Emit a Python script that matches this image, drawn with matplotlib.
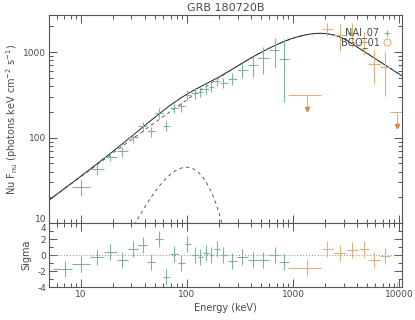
import numpy as np
import matplotlib
matplotlib.use("Agg")
import matplotlib.pyplot as plt
import matplotlib.transforms as mtrans
from matplotlib.ticker import LogLocator, NullFormatter, FixedLocator, MultipleLocator

# NAI_07 channels (keV), nu F_nu and residuals
nai_e = [7.06, 10, 14.1, 19.0, 24.5, 31, 38.5, 45.5, 54.7, 64, 75, 88.5, 101,
         119, 133, 150, 170, 193, 220, 265, 333, 423, 518, 670, 828]
nai_lo = [5.45, 8.2, 12.1, 16.5, 21.8, 27.6, 34.5, 42.0, 50.0, 59.5, 69.5, 82.0, 95.0,
          110, 126, 141, 160, 181, 207, 242, 298, 376, 470, 590, 745]
nai_hi = [8.2, 12.1, 16.5, 21.8, 27.6, 34.5, 42.0, 50.0, 59.5, 69.5, 82.0, 95.0, 110,
          126, 141, 160, 181, 207, 242, 298, 376, 470, 590, 745, 920]
nai_f = [np.nan, 26.5, 42.7, 59.8, 68.8, 100.6, 135.8, 118.6, 195, 138, 223, 232, 316,
         331, 341, 374, 391, 459, 436, 490, 614, 703, 855, 1058, 843]
nai_ferr = [0, 5.5, 6, 7, 9, 13, 18, 16, 26, 18, 30, 31, 42,
            45, 46, 50, 53, 62, 60, 75, 110, 190, 300, 400, 580]
nai_res = [-1.8, -1.1, -0.2, 0.4, -0.6, 0.7, 1.25, -0.9, 2.0, -2.8, 0.1, -1.0, 1.4,
           0.0, -0.3, 0.3, 0.0, 0.7, 0.0, -0.7, -0.2, -0.6, -0.6, 0.0, -0.9]

# BGO_01 channels
bgo_e = [2110, 2775, 3630, 4680, 5810, 7430]
bgo_lo = [1880, 2440, 3200, 4150, 5150, 6600]
bgo_hi = [2370, 3150, 4120, 5250, 6550, 8300]
bgo_f = [1862, 1585, 1675, 1321, 736, 671]
bgo_ferr = [330, 540, 540, 400, 315, 360]
bgo_res = [0.7, 0.2, 0.6, 0.7, -0.6, -0.1]

# BGO upper limits
ul_e = [1365, 9500]
ul_lo = [897, 8200]
ul_hi = [1853, 10800]
ul_f = [318, 199]
ul_arrow = [218, 135]
ul_res = [-1.65, -4.4]

# model: Band function + blackbody
alpha, beta, epeak, f5 = -1.08, -2.8, 1800.0, 18.5
kt, bb_peak = 25.2, 45.0

nai_col = "#7fb39a"
bgo_col = "#dcb07c"
ul_col = "#cc8a44"
axcol = "#555555"
txtcol = "#4a4a4a"


def band_nufnu(e):
    e0 = epeak / (2 + alpha)
    eb = (alpha - beta) * e0
    low = e ** (alpha + 2) * np.exp(-e / e0)
    high = eb ** (alpha - beta) * np.exp(beta - alpha) * e ** (beta + 2)
    n = f5 / (5 ** (alpha + 2) * np.exp(-5 / e0))
    return n * np.where(e < eb, low, high)


def bb_nufnu(e):
    x = e / kt
    xp = 3.92
    return bb_peak * (x ** 4 / np.expm1(x)) / (xp ** 4 / np.expm1(xp))


def xerr(c, lo, hi):
    c = np.array(c)
    return [c - np.array(lo), np.array(hi) - c]


fig = plt.figure(figsize=(4.15, 3.2), dpi=100)
ax = fig.add_axes([0.118, 0.303, 0.851, 0.650])
rx = fig.add_axes([0.118, 0.103, 0.851, 0.200], sharex=ax)

egrid = np.logspace(np.log10(5), np.log10(10700), 400)
ax.plot(egrid, band_nufnu(egrid) + bb_nufnu(egrid), color="#222222", lw=0.7)
ax.plot(egrid, band_nufnu(egrid), color="#444444", lw=0.6, ls=(0, (4, 4)))
ax.plot(egrid, bb_nufnu(egrid), color="#444444", lw=0.6, ls=(0, (4, 4)))

ax.errorbar(nai_e, nai_f, xerr=xerr(nai_e, nai_lo, nai_hi), yerr=nai_ferr,
            fmt="none", ecolor=nai_col, elinewidth=0.8, capsize=0)
ax.errorbar(bgo_e, bgo_f, xerr=xerr(bgo_e, bgo_lo, bgo_hi), yerr=bgo_ferr,
            fmt="none", ecolor=bgo_col, elinewidth=0.8, capsize=0)
ax.errorbar(ul_e, ul_f, xerr=xerr(ul_e, ul_lo, ul_hi), fmt="none",
            ecolor=bgo_col, elinewidth=0.8, capsize=0)
ax.vlines(ul_e, ul_arrow, ul_f, color=bgo_col, lw=0.8)
ax.plot(ul_e, ul_arrow, "v", color=ul_col, ms=3, mec=ul_col)

ax.set_xscale("log")
ax.set_yscale("log")
ax.set_xlim(5, 10700)
ax.set_ylim(10, 2720)
ax.set_yticks([10, 100, 1000])
ax.set_yticklabels(["10", "100", "1000"])
ax.yaxis.set_minor_locator(LogLocator(base=10, subs=np.arange(2, 10)))
ax.yaxis.set_minor_formatter(NullFormatter())
ax.tick_params(axis="x", labelbottom=False)
ax.set_ylabel(r"Nu F$_{\rm nu}$ (photons keV cm$^{-2}$ s$^{-1}$)", fontsize=7, color=txtcol, labelpad=2)
ax.set_title("GRB 180720B", fontsize=8, color=txtcol, pad=3)

# legend text
ax.text(0.936, 0.915, "NAI_07", transform=ax.transAxes, ha="right", va="center",
        fontsize=7, color=txtcol)
ax.plot([0.958], [0.915], "+", transform=ax.transAxes, color=nai_col, ms=5, mew=0.8)
ax.text(0.936, 0.868, "BGO_01", transform=ax.transAxes, ha="right", va="center",
        fontsize=7, color=txtcol)
ax.plot([0.958], [0.868], "o", transform=ax.transAxes, mfc="none", mec=bgo_col, ms=5, mew=0.8)

# residuals
rx.axhline(0, color="#888888", lw=0.7, ls=(0, (1, 2)))
rx.errorbar(nai_e, nai_res, xerr=xerr(nai_e, nai_lo, nai_hi), yerr=1,
            fmt="none", ecolor=nai_col, elinewidth=0.8, capsize=0)
rx.errorbar(bgo_e, bgo_res, xerr=xerr(bgo_e, bgo_lo, bgo_hi), yerr=1,
            fmt="none", ecolor=bgo_col, elinewidth=0.8, capsize=0)
rx.errorbar(ul_e, ul_res, xerr=xerr(ul_e, ul_lo, ul_hi), yerr=1,
            fmt="none", ecolor=bgo_col, elinewidth=0.8, capsize=0)
rx.set_ylim(-4, 4)
rx.yaxis.set_major_locator(FixedLocator([-4, -2, 0, 2, 4]))
rx.set_yticklabels(["-4", "-2", "0", "2", "4"])
rx.yaxis.set_minor_locator(MultipleLocator(1))
rx.set_xticks([10, 100, 1000, 10000])
rx.set_xticklabels(["10", "100", "1000", "10000"])
rx.xaxis.set_minor_locator(LogLocator(base=10, subs=np.arange(2, 10)))
rx.xaxis.set_minor_formatter(NullFormatter())
rx.set_ylabel("Sigma", fontsize=7, color=txtcol, labelpad=4)
rx.set_xlabel("Energy (keV)", fontsize=7, color=txtcol, labelpad=3)

for a in (ax, rx):
    for s in a.spines.values():
        s.set_color(axcol)
        s.set_linewidth(0.8)
    a.tick_params(which="both", direction="in", top=True, right=True,
                  colors=axcol, labelcolor=txtcol, labelsize=6.5, width=0.7, pad=2)
    a.tick_params(which="major", length=6)
    a.tick_params(which="minor", length=3)

# nudge the "10" and "4" labels apart so they do not sit on top of each other
ax.get_yticklabels()[0].set_transform(
    ax.get_yticklabels()[0].get_transform() + mtrans.ScaledTranslation(0, 3 / 72, fig.dpi_scale_trans))
rx.get_yticklabels()[-1].set_transform(
    rx.get_yticklabels()[-1].get_transform() + mtrans.ScaledTranslation(0, -3 / 72, fig.dpi_scale_trans))

fig.savefig("out.png", dpi=100)
